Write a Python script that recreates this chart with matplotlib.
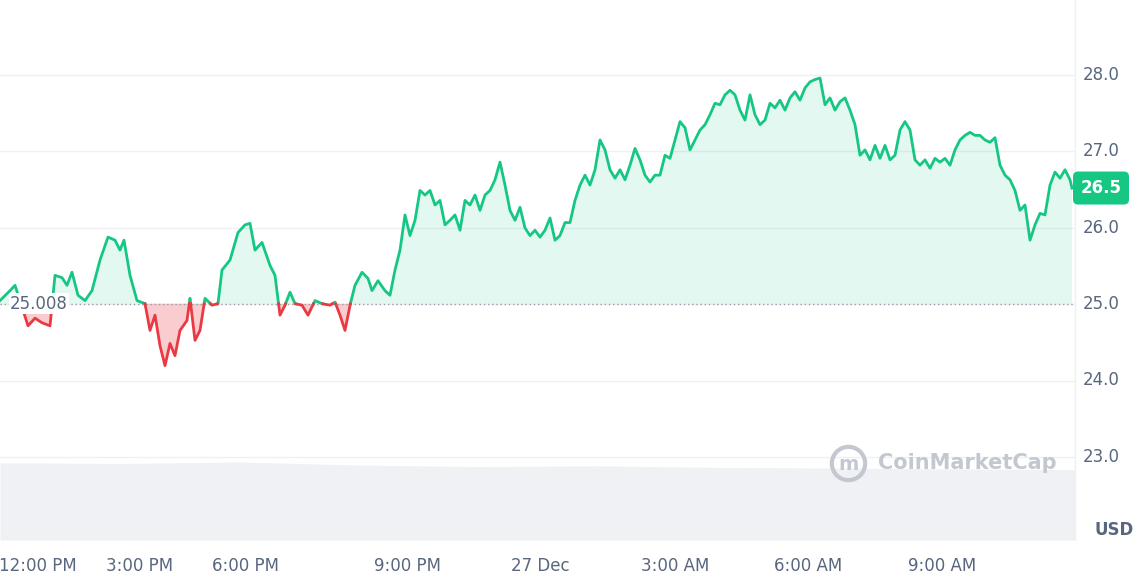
import numpy as np
import matplotlib.pyplot as plt

price = [25.05,25.18,25.25,25.05,24.72,24.82,24.76,24.72,25.38,25.35,25.25,25.42,25.12,25.05,25.18,25.58,25.88,25.84,25.71,25.84,
25.38,25.05,25.01,24.66,24.86,24.46,24.20,24.49,24.33,24.66,24.79,25.08,24.53,24.66,25.08,24.99,25.01,25.45,25.58,25.94,
26.04,26.06,25.71,25.81,25.51,25.38,24.86,24.99,25.16,25.01,24.99,24.86,25.05,25.01,24.99,25.03,24.86,24.66,24.99,25.25,
25.42,25.34,25.18,25.31,25.18,25.12,25.45,25.71,26.17,25.90,26.10,26.49,26.43,26.49,26.30,26.36,26.04,26.10,26.17,25.97,
26.36,26.30,26.43,26.23,26.43,26.49,26.63,26.86,26.56,26.23,26.10,26.27,26.00,25.90,25.97,25.88,25.97,26.13,25.84,25.90,
26.07,26.07,26.36,26.56,26.69,26.56,26.76,27.15,27.02,26.76,26.65,26.76,26.63,26.82,27.04,26.89,26.69,26.60,26.69,26.69,
26.95,26.91,27.15,27.39,27.31,27.02,27.15,27.28,27.35,27.48,27.63,27.61,27.74,27.80,27.74,27.54,27.41,27.74,27.48,27.35,
27.41,27.63,27.57,27.67,27.54,27.70,27.78,27.67,27.83,27.91,27.94,27.96,27.61,27.70,27.54,27.65,27.70,27.54,27.35,26.95,
27.02,26.89,27.08,26.91,27.08,26.89,26.95,27.28,27.39,27.28,26.89,26.82,26.89,26.78,26.91,26.86,26.91,26.82,27.02,27.15,
27.21,27.25,27.21,27.21,27.15,27.12,27.18,26.82,26.69,26.63,26.49,26.23,26.30,25.84,26.04,26.19,26.17,26.56,26.73,26.65,
26.76,26.63,26.52]
# sample time positions (chart time axis units)
times = ([0,10,15,20,28,35,42,50,55,62,67,72,78,85,92,100,108,115,120,124,130,137,145,150,155,160,165,170,175,180,
          187,190,195,200,205,212,218,222,230,238,245,250,255,262,270,275,280,285,290,295,302,308,315,322,330,335,340,
          345,350,355,362,368,372,378,385,390,395,400,405,410,415] + list(range(420,1071,5)) + [1072])
baseline = 25.008
tick_labels = ["12:00 PM","3:00 PM","6:00 PM","9:00 PM","27 Dec","3:00 AM","6:00 AM","9:00 AM"]
tick_pos = [38,140,245,407,540,675,808,942]
yticks = [23.0,24.0,25.0,26.0,27.0,28.0]
volume_top = [22.93,22.92,22.94,22.90,22.88,22.89,22.87,22.86,22.85,22.84]

GREEN = "#16c784"; RED = "#ea3943"
xs = np.array(times, float)
y = np.array(price)
n = len(y)

X=[xs[0]]; Y=[y[0]]
for i in range(1,n):
    if (y[i-1]-baseline)*(y[i]-baseline) < 0:
        t=(baseline-y[i-1])/(y[i]-y[i-1])
        X.append(xs[i-1]+t*(xs[i]-xs[i-1])); Y.append(baseline)
    X.append(xs[i]); Y.append(y[i])
X=np.array(X); Y=np.array(Y)

fig = plt.figure(figsize=(11.4,5.83), dpi=100)
ax = fig.add_axes([0, 43/583, 1075/1140, 540/583])
ax.set_xlim(0,1075); ax.set_ylim(21.92, 28.98)

vx = np.linspace(0,1075,len(volume_top))
ax.fill_between(vx, 21.92, volume_top, color="#eff1f4", zorder=1, lw=0)

for yt in yticks:
    ax.axhline(yt, color="#eef0f3", lw=1, zorder=0)

ax.fill_between(X, baseline, Y, where=Y>=baseline, color=GREEN, alpha=0.12, lw=0, zorder=2)
ax.fill_between(X, baseline, Y, where=Y<=baseline, color=RED, alpha=0.25, lw=0, zorder=2)

up = np.where(Y>=baseline, Y, np.nan)
dn = np.where(Y<=baseline, Y, np.nan)
ax.plot(X, up, color=GREEN, lw=2, zorder=4)
ax.plot(X, dn, color=RED, lw=2, zorder=4)
ax.axhline(baseline, color="#9aa0a8", lw=1, ls=(0,(1,2)), zorder=3)
ax.text(10, baseline, "25.008", va="center", ha="left", fontsize=12, color="#58667e",
        bbox=dict(facecolor="white", edgecolor="none", pad=1), zorder=5)

ax.plot([848],[22.93], marker="o", ms=24, mfc="none", mec="#c3c8d0", mew=3, zorder=5)
ax.text(848, 22.91, "m", fontsize=14, color="#c3c8d0", va="center", ha="center", fontweight="bold", zorder=5)
ax.text(878, 22.93, "CoinMarketCap", fontsize=15, color="#c3c8d0", va="center", ha="left", fontweight="bold", zorder=5)

for s in ax.spines.values(): s.set_visible(False)
ax.set_yticks([]); ax.set_xticks(tick_pos)
ax.set_xticklabels(tick_labels, fontsize=12, color="#58667e")
ax.tick_params(axis="x", length=0, pad=12)

for yt in yticks:
    fig.text(1083/1140, (583-(304-(yt-25)*76.3))/583, f"{yt:.1f}", fontsize=12, color="#58667e", va="center")
fig.text(1095/1140, (583-530)/583, "USD", fontsize=12, color="#58667e", va="center", fontweight="bold")
fig.add_artist(plt.Line2D([1075/1140,1075/1140],[43/583,1],color="#eef0f3",lw=1))
yl = (583-(304-(price[-1]-25)*76.3))/583
fig.text(1101/1140, yl, "26.5", fontsize=12, color="white", va="center", ha="center", fontweight="bold",
         bbox=dict(boxstyle="round,pad=0.45,rounding_size=0.3", facecolor=GREEN, edgecolor="none"))
fig.savefig("out.png", dpi=100)
